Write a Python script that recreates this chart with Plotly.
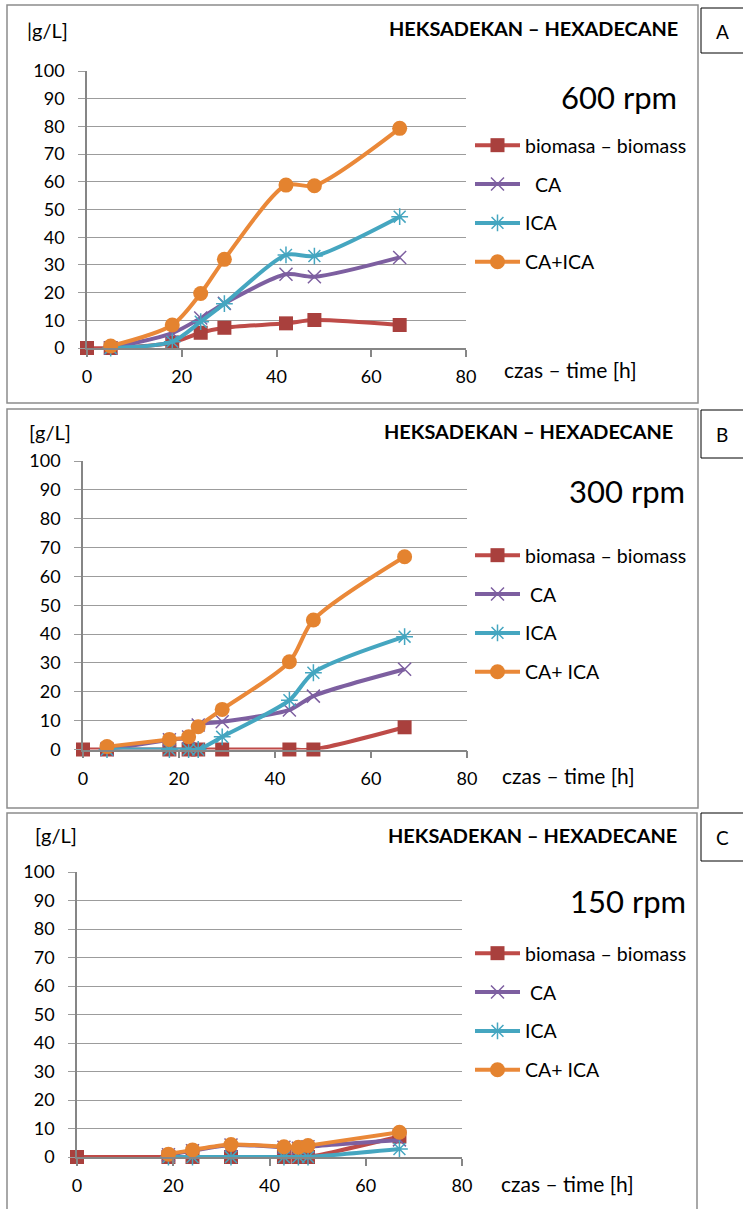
import plotly.graph_objects as go

W, H = 743, 1209
FONT = "Lato"

# ---------------- data ----------------
# Panel A - 600 rpm
a_bio_x = [0, 5, 18, 24, 29, 42, 48, 66]
a_bio_y = [0, 0, 2, 5.5, 7.3, 8.9, 10.1, 8.3]
a_ca_x = [5, 18, 24, 29, 42, 48, 66]
a_ca_y = [0, 5.4, 10.8, 16.1, 26.6, 25.7, 32.7]
a_ica_x = [5, 18, 24, 29, 42, 48, 66]
a_ica_y = [0, 2.3, 9.5, 16, 33.6, 33.2, 47.4]
a_mix_x = [5, 18, 24, 29, 42, 48, 66]
a_mix_y = [0.7, 8.3, 19.7, 32, 58.8, 58.6, 79.3]

# Panel B - 300 rpm
b_bio_x = [0, 5, 18, 22, 24, 29, 43, 48, 67]
b_bio_y = [0, 0, 0, 0, 0, 0, 0, 0, 7.7]
b_ca_x = [5, 18, 22, 24, 29, 43, 48, 67]
b_ca_y = [0, 3.4, 4.3, 8.5, 9.6, 13.7, 18.5, 27.8]
b_ica_x = [5, 18, 22, 24, 29, 43, 48, 67]
b_ica_y = [0, 0, 0, 0, 4.4, 17.1, 26.6, 39.1]
b_mix_x = [5, 18, 22, 24, 29, 43, 48, 67]
b_mix_y = [1.0, 3.5, 4.4, 7.9, 13.9, 30.4, 44.9, 66.8]

# Panel C - 150 rpm
c_bio_x = [0, 19, 24, 32, 43, 46, 48, 67]
c_bio_y = [0, 0, 0, 0, 0, 0, 0, 7.2]
c_ca_x = [19, 24, 32, 43, 46, 48, 67]
c_ca_y = [0.8, 2.2, 4.2, 3.4, 3.1, 3.6, 6.0]
c_ica_x = [19, 24, 32, 43, 46, 48, 67]
c_ica_y = [0, 0, 0, 0, 0, 0, 2.8]
c_mix_x = [19, 24, 32, 43, 46, 48, 67]
c_mix_y = [1.0, 2.5, 4.4, 3.6, 3.4, 4.0, 8.7]

x_ticks = [0, 20, 40, 60, 80]
y_ticks = [0, 10, 20, 30, 40, 50, 60, 70, 80, 90, 100]

names_a = ["biomasa \u2013 biomass", "\u00a0\u00a0CA", "ICA", "CA+ICA"]
names_bc = ["biomasa \u2013 biomass", "\u00a0CA", "ICA", "CA+ ICA"]

# ---------------- styles ----------------
RED, RED_M = "#BE4B48", "#A9403D"
PURPLE = "#7D5FA0"
TEAL = "#45A6C0"
ORANGE, ORANGE_M = "#EA8838", "#E4832F"


def px(x):
    return x / W


def py(y):
    return 1 - y / H


fig = go.Figure()

panels = [
    dict(series=[(a_bio_x, a_bio_y), (a_ca_x, a_ca_y), (a_ica_x, a_ica_y), (a_mix_x, a_mix_y)],
         names=names_a, xd=(87, 466), yd=(348, 71), legend="legend", ax=""),
    dict(series=[(b_bio_x, b_bio_y), (b_ca_x, b_ca_y), (b_ica_x, b_ica_y), (b_mix_x, b_mix_y)],
         names=names_bc, xd=(83, 467), yd=(749.5, 461), legend="legend2", ax="2"),
    dict(series=[(c_bio_x, c_bio_y), (c_ca_x, c_ca_y), (c_ica_x, c_ica_y), (c_mix_x, c_mix_y)],
         names=names_bc, xd=(77, 462), yd=(1157, 872), legend="legend3", ax="3"),
]

styles = [
    dict(line=dict(color=RED, width=4), marker=dict(symbol="square", size=14, color=RED_M)),
    dict(line=dict(color=PURPLE, width=4),
         marker=dict(symbol="x-thin-open", size=13, color=PURPLE, line=dict(color=PURPLE, width=1.5))),
    dict(line=dict(color=TEAL, width=4),
         marker=dict(symbol="asterisk-open", size=14, color=TEAL, line=dict(color=TEAL, width=1.5))),
    dict(line=dict(color=ORANGE, width=4), marker=dict(symbol="circle", size=15, color=ORANGE_M)),
]

for p in panels:
    for i, ((xs, ys), nm) in enumerate(zip(p["series"], p["names"])):
        st = styles[i]
        fig.add_trace(go.Scatter(
            x=xs, y=ys, name=nm, mode="lines+markers",
            line=dict(color=st["line"]["color"], width=st["line"]["width"], shape="spline", smoothing=0.8),
            marker=st["marker"],
            xaxis="x" + p["ax"], yaxis="y" + p["ax"],
            legend=p["legend"], legendgroup=p["legend"] + str(i),
            cliponaxis=False,
        ))

GRID = "#9C9C9C"
AXIS = "#868686"

layout = dict(
    width=W, height=H,
    margin=dict(l=0, r=0, t=0, b=0, pad=0, autoexpand=False),
    paper_bgcolor="white", plot_bgcolor="white",
    font=dict(family=FONT, color="#000000"),
    showlegend=True,
)

for p in panels:
    xa = "xaxis" + p["ax"]
    ya = "yaxis" + p["ax"]
    layout[xa] = dict(
        domain=[px(p["xd"][0]), px(p["xd"][1])], range=[0, 80], automargin=False,
        tickmode="array", tickvals=x_ticks, ticktext=[str(t) for t in x_ticks],
        showgrid=False, zeroline=False, showline=True, linecolor=AXIS, linewidth=1.5,
        ticks="outside", ticklen=7, tickcolor=AXIS, tickwidth=1.5,
        tickfont=dict(family=FONT, size=18, color="#000"), ticklabelstandoff=5,
        anchor="y" + p["ax"], fixedrange=True,
    )
    layout[ya] = dict(
        domain=[py(p["yd"][0]), py(p["yd"][1])], range=[0, 100], automargin=False,
        tickmode="array", tickvals=y_ticks, ticktext=[str(t) for t in y_ticks],
        showgrid=True, gridcolor=GRID, gridwidth=1.3, zeroline=False,
        showline=True, linecolor=AXIS, linewidth=1.5,
        ticks="outside", ticklen=7, tickcolor=GRID, tickwidth=1.3,
        tickfont=dict(family=FONT, size=18, color="#000"), ticklabelstandoff=10,
        anchor="x" + p["ax"], fixedrange=True,
    )

legend_pos = [(470, 126), (470, 536), (470, 934)]
for lg, (lx, ly) in zip(["legend", "legend2", "legend3"], legend_pos):
    layout[lg] = dict(
        x=px(lx), y=py(ly), xanchor="left", yanchor="top",
        font=dict(family=FONT, size=19.5, color="#000"),
        bgcolor="rgba(0,0,0,0)", borderwidth=0,
        itemwidth=45, tracegroupgap=10.5, traceorder="grouped",
    )

fig.update_layout(**layout)

# ---------------- frames ----------------
shapes = []
for (x0, y0, x1, y1) in [(7, 5, 698, 403), (7, 409, 698, 808), (7, 813, 697, 1215)]:
    shapes.append(dict(type="rect", xref="paper", yref="paper",
                       x0=px(x0), x1=px(x1), y0=py(y0), y1=py(y1),
                       line=dict(color="#8C8C8C", width=1.5), fillcolor="rgba(0,0,0,0)", layer="below"))
for (y0, y1) in [(8, 53), (410, 458), (813, 861)]:
    shapes.append(dict(type="rect", xref="paper", yref="paper",
                       x0=px(701), x1=px(746), y0=py(y0), y1=py(y1),
                       line=dict(color="#000000", width=1), fillcolor="rgba(0,0,0,0)"))
fig.update_layout(shapes=shapes)

# ---------------- texts ----------------
ann = []


def text(t, x, y, size, xanchor="left", bold=False):
    ann.append(dict(text=("<b>%s</b>" % t) if bold else t, x=px(x), y=py(y),
                    xref="paper", yref="paper", xanchor=xanchor, yanchor="middle",
                    showarrow=False, font=dict(family=FONT, size=size, color="#000")))


units = ["|g/L]", "[g/L]", "[g/L]"]
unit_pos = [(25, 30), (27, 432), (33, 835)]
title_pos = [(680, 28), (675, 431), (679, 835)]
rpm = ["600 rpm", "300 rpm", "150 rpm"]
rpm_pos = [(679, 97), (687, 491), (688, 901)]
time_pos = [(502, 369), (500, 775), (499, 1183)]
labels = ["A", "B", "C"]
label_y = [31, 434, 837]

for k in range(3):
    text(units[k], unit_pos[k][0], unit_pos[k][1], 20)
    text("HEKSADEKAN \u2013 HEXADECANE", title_pos[k][0], title_pos[k][1], 19.9, xanchor="right", bold=True)
    text(rpm[k], rpm_pos[k][0], rpm_pos[k][1], 31, xanchor="right")
    text("czas \u2013 time [h]", time_pos[k][0], time_pos[k][1], 21)
    text(labels[k], 722, label_y[k], 19, xanchor="center")

fig.update_layout(annotations=ann)

fig.write_html("out.html")
